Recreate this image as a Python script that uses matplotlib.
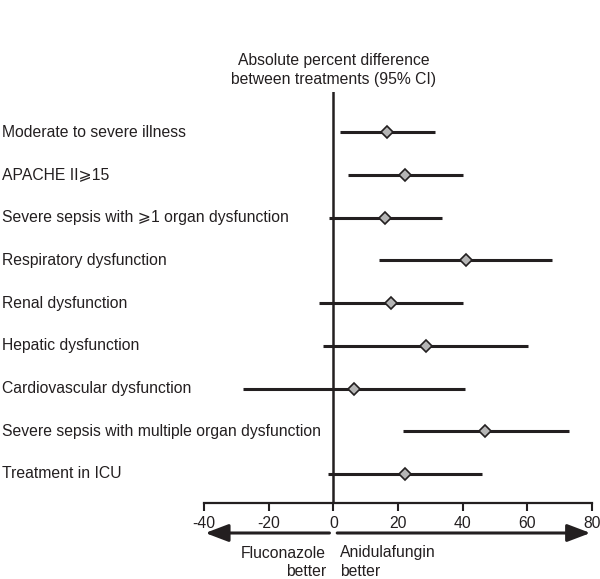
import matplotlib
matplotlib.use("Agg")
import matplotlib.pyplot as plt
import matplotlib.transforms as mtransforms

plt.rcParams["font.family"] = ["Liberation Sans", "DejaVu Sans"]

subgroups = [
    "Moderate to severe illness",
    "APACHE II\u2a7e15",
    "Severe sepsis with \u2a7e1 organ dysfunction",
    "Respiratory dysfunction",
    "Renal dysfunction",
    "Hepatic dysfunction",
    "Cardiovascular dysfunction",
    "Severe sepsis with multiple organ dysfunction",
    "Treatment in ICU",
]
diff = [16.7, 22.3, 16.0, 40.9, 17.9, 28.6, 6.3, 46.8, 22.2]
ci_low = [2.2, 4.6, -1.4, 14.0, -4.5, -3.3, -27.8, 21.5, -1.8]
ci_high = [31.5, 40.2, 33.5, 67.7, 40.1, 60.3, 40.7, 72.8, 46.1]
xticks = [-40, -20, 0, 20, 40, 60, 80]

fs = 11.3
dark = "#231f20"

fig = plt.figure(figsize=(6.0, 5.79), dpi=100)
ax = fig.add_axes([204 / 600, (579 - 503) / 579, (592 - 204) / 600, (503 - 92) / 579])

ys = list(range(len(subgroups)))
ax.hlines(ys, ci_low, ci_high, color=dark, linewidth=2.2, zorder=2)
ax.plot(diff, ys, linestyle="none", marker="D", markersize=6.6,
        markerfacecolor="#b5b5b5", markeredgecolor=dark, markeredgewidth=1.2, zorder=3)
ax.axvline(0, color=dark, linewidth=1.8, zorder=1)

ax.set_xlim(-40, 80)
ax.set_ylim(8.68, -0.94)
ax.set_xticks(xticks)
ax.set_xticklabels([str(t) for t in xticks], fontsize=fs, color=dark)
ax.tick_params(axis="x", direction="out", length=6, width=1.5, color=dark, pad=3)
ax.set_yticks([])
for side in ["top", "right", "left"]:
    ax.spines[side].set_visible(False)
ax.spines["bottom"].set_linewidth(1.6)
ax.spines["bottom"].set_color(dark)

# subgroup labels at the left edge of the figure
lab_tr = mtransforms.blended_transform_factory(fig.transFigure, ax.transData)
for y, name in zip(ys, subgroups):
    ax.text(2 / 600, y, name, transform=lab_tr, ha="left", va="center",
            fontsize=fs, color=dark, clip_on=False)

bt = mtransforms.blended_transform_factory(ax.transData, ax.transAxes)
ax.text(0, 1.0 + 22 / 411, "Absolute percent difference\nbetween treatments (95% CI)",
        transform=bt, ha="center", va="center", fontsize=fs, color=dark,
        linespacing=1.3)

# direction arrows
arrow_y = -30 / 411
arrow = dict(arrowstyle="-|>,head_length=1.0,head_width=0.38", mutation_scale=14,
             color=dark, linewidth=2.2, shrinkA=0, shrinkB=0)
ax.annotate("", xy=(-39.6, arrow_y), xytext=(-1.2, arrow_y),
            xycoords=("data", "axes fraction"), textcoords=("data", "axes fraction"),
            arrowprops=arrow, annotation_clip=False)
ax.annotate("", xy=(79.5, arrow_y), xytext=(1.2, arrow_y),
            xycoords=("data", "axes fraction"), textcoords=("data", "axes fraction"),
            arrowprops=arrow, annotation_clip=False)

ax.text(-2.2, -59 / 411, "Fluconazole\nbetter", transform=bt, ha="right", va="center",
        multialignment="right", fontsize=fs, color=dark, linespacing=1.25)
ax.text(2.0, -59 / 411, "Anidulafungin\nbetter", transform=bt, ha="left", va="center",
        multialignment="left", fontsize=fs, color=dark, linespacing=1.25)

fig.savefig("out.png", dpi=100)
